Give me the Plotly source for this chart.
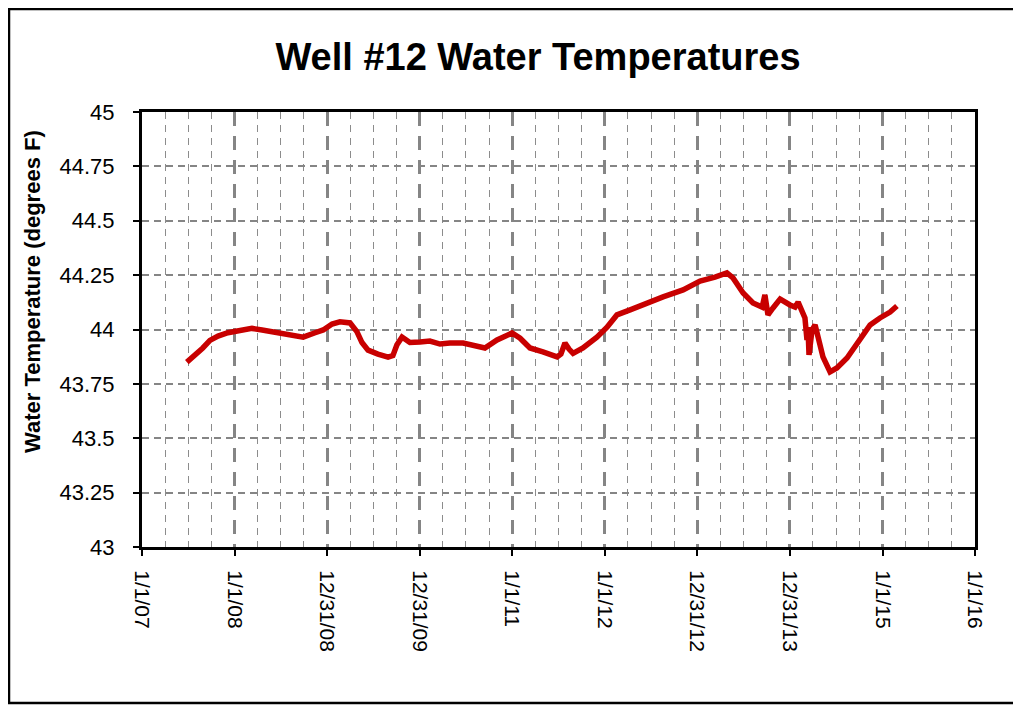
import plotly.graph_objects as go
import pandas as pd

# ---- data ----
dates = [
    "2007-06-27", "2007-07-29", "2007-08-29", "2007-09-26", "2007-10-28", "2007-12-06",
    "2008-01-23", "2008-03-10", "2008-04-19", "2008-06-17", "2008-08-08", "2008-09-28",
    "2008-11-14", "2008-12-16", "2009-01-20", "2009-02-20", "2009-04-01", "2009-04-28",
    "2009-05-18", "2009-06-11", "2009-07-20", "2009-08-29", "2009-09-17", "2009-10-03",
    "2009-10-23", "2009-11-23", "2010-01-02", "2010-02-10", "2010-03-22", "2010-04-30",
    "2010-06-21", "2010-08-07", "2010-09-15", "2010-11-02", "2010-12-03", "2010-12-31",
    "2011-02-01", "2011-03-12", "2011-05-02", "2011-06-27", "2011-07-12", "2011-07-28",
    "2011-08-13", "2011-08-29", "2011-10-07", "2011-12-01", "2012-01-10", "2012-02-18",
    "2012-04-10", "2012-06-16", "2012-08-18", "2012-11-05", "2013-01-11", "2013-03-11",
    "2013-04-27", "2013-05-21", "2013-06-30", "2013-08-08", "2013-09-13", "2013-09-24",
    "2013-10-06", "2013-10-26", "2013-11-23", "2014-01-01", "2014-01-21", "2014-02-02",
    "2014-02-17", "2014-03-01", "2014-03-09", "2014-03-13", "2014-03-17", "2014-03-29",
    "2014-04-10", "2014-04-22", "2014-05-11", "2014-06-08", "2014-07-05", "2014-08-14",
    "2014-10-04", "2014-11-13", "2014-12-22", "2015-01-31", "2015-02-27",
]
temps = [
    43.850, 43.880, 43.915, 43.950, 43.970, 43.985,
    43.995, 44.005, 43.998, 43.985, 43.975, 43.965,
    43.985, 43.998, 44.025, 44.035, 44.030, 43.990,
    43.940, 43.905, 43.887, 43.873, 43.880, 43.930,
    43.965, 43.940, 43.943, 43.947, 43.933, 43.938,
    43.938, 43.924, 43.915, 43.952, 43.970, 43.984,
    43.960, 43.915, 43.897, 43.874, 43.887, 43.938,
    43.910, 43.890, 43.915, 43.965, 44.011, 44.067,
    44.090, 44.122, 44.150, 44.182, 44.223, 44.241,
    44.260, 44.237, 44.168, 44.122, 44.103, 44.159,
    44.067, 44.099, 44.140, 44.113, 44.103, 44.126,
    44.076, 44.053, 43.952, 44.011, 43.883, 43.998,
    44.021, 43.966, 43.874, 43.805, 43.823, 43.869,
    43.952, 44.021, 44.053, 44.080, 44.108,
]

x_tick_dates = ["2007-01-01", "2008-01-01", "2008-12-31", "2009-12-31", "2011-01-01",
                "2012-01-01", "2012-12-31", "2013-12-31", "2015-01-01", "2016-01-01"]
x_tick_labels = ["1/1/07", "1/1/08", "12/31/08", "12/31/09", "1/1/11",
                 "1/1/12", "12/31/12", "12/31/13", "1/1/15", "1/1/16"]
y_tick_vals = [43, 43.25, 43.5, 43.75, 44, 44.25, 44.5, 44.75, 45]
y_tick_labels = ["43", "43.25", "43.5", "43.75", "44", "44.25", "44.5", "44.75", "45"]

title_text = "Well #12 Water Temperatures"
y_title_text = "Water Temperature (degrees F)"

# minor (quarter-year) gridline positions between the major date ticks
ts = pd.to_datetime(x_tick_dates)
minor_vals = []
for a, b in zip(ts[:-1], ts[1:]):
    for k in (1, 2, 3):
        minor_vals.append((a + (b - a) * k / 4).strftime("%Y-%m-%d %H:%M:%S"))

FONT = "Liberation Sans, Arial, sans-serif"
OFF = 8  # page body margin of the browser
W, H = 1021 - OFF, 706 - OFF
L, R, T, B = 142 - OFF, 975 - OFF, 112 - OFF, 547 - OFF  # plot area pixels in figure coords

fig = go.Figure()
fig.add_trace(go.Scatter(
    x=dates, y=temps, mode="lines",
    line=dict(color="#C80000", width=5.5),
    hoverinfo="x+y", showlegend=False,
))

fig.update_layout(
    width=W, height=H,
    margin=dict(l=L, r=W - R, t=T, b=H - B, autoexpand=False),
    paper_bgcolor="white", plot_bgcolor="white",
    font=dict(family=FONT, color="black"),
    title=dict(
        text="<b>" + title_text + "</b>",
        font=dict(family=FONT, size=38, color="black"),
        x=(538 - OFF) / W, xref="container", xanchor="center",
        y=1 - (57 - OFF) / H, yref="container", yanchor="middle",
    ),
    xaxis=dict(
        type="date",
        range=[x_tick_dates[0], x_tick_dates[-1]],
        tickmode="array", tickvals=x_tick_dates, ticktext=x_tick_labels,
        tickangle=90,
        tickfont=dict(family=FONT, size=21, color="black"),
        ticks="outside", ticklen=6, tickwidth=2, tickcolor="black",
        ticklabelstandoff=10,
        showline=True, linecolor="black", linewidth=3, mirror=True,
        showgrid=True, gridcolor="#858585", gridwidth=2.5, griddash="14px,10px",
        minor=dict(tickmode="array", tickvals=minor_vals, showgrid=True,
                   gridcolor="#8c8c8c", gridwidth=1.3, griddash="7px,6px", ticks=""),
        zeroline=False,
    ),
    yaxis=dict(
        range=[43, 45],
        tickmode="array", tickvals=y_tick_vals, ticktext=y_tick_labels,
        tickfont=dict(family=FONT, size=22, color="black"),
        ticks="outside", ticklen=6, tickwidth=2, tickcolor="black",
        ticklabelstandoff=14,
        showline=True, linecolor="black", linewidth=3, mirror=True,
        showgrid=True, gridcolor="#858585", gridwidth=1.5, griddash="7px,5px",
        zeroline=False,
    ),
    annotations=[dict(
        text="<b>" + y_title_text + "</b>",
        textangle=-90, showarrow=False,
        xref="paper", yref="paper",
        x=(32 - 142) / (R - L), y=(547 - 292) / (B - T),
        xanchor="center", yanchor="middle",
        font=dict(family=FONT, size=22, color="black"),
    )],
    shapes=[dict(
        type="rect", xref="paper", yref="paper",
        x0=(9 - 142) / (R - L), x1=(1040 - 142) / (R - L),
        y0=-(703 - 547) / (B - T), y1=1 + (112 - 9) / (B - T),
        line=dict(color="black", width=2.5), fillcolor="rgba(0,0,0,0)",
        layer="above",
    )],
)

fig.write_html("out.html")
